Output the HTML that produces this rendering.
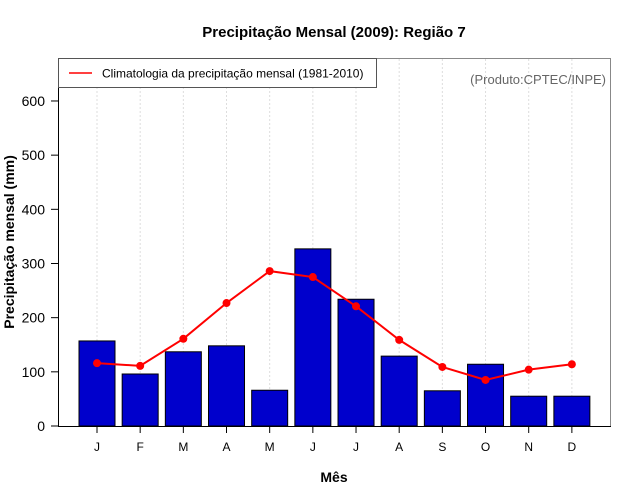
<!DOCTYPE html>
<html><head><meta charset="utf-8"><style>
body{margin:0;background:#fff;}
svg{display:block;font-family:"Liberation Sans",sans-serif;}
</style></head><body>
<svg id="c" width="640" height="500">
<text x="334" y="37" text-anchor="middle" font-size="15" font-weight="bold">Precipitação Mensal (2009): Região 7</text>
<g id="grid"></g><g id="bars"></g><g id="line"></g><g id="axes"></g>
<rect x="58.5" y="58.5" width="552" height="368" fill="none" stroke="#888"/>
<line x1="58.5" y1="58" x2="58.5" y2="427" stroke="#000"/>
<line x1="58" y1="426.5" x2="611" y2="426.5" stroke="#000"/>
<g>
<rect x="58.5" y="58.5" width="318" height="29" fill="#fff" stroke="#555"/>
<line x1="69" y1="73" x2="92" y2="73" stroke="red" stroke-width="1.5"/>
<text x="102" y="77.5" font-size="12">Climatologia da precipitação mensal (1981-2010)</text>
</g>
<text x="606" y="84" text-anchor="end" font-size="13" fill="#666">(Produto:CPTEC/INPE)</text>
<text x="334" y="482" text-anchor="middle" font-size="14" font-weight="bold">Mês</text>
<text transform="translate(14,242) rotate(-90)" text-anchor="middle" font-size="14" font-weight="bold">Precipitação mensal (mm)</text>
</svg>
<script>
const months=["J","F","M","A","M","J","J","A","S","O","N","D"];
const precip2009=[157,96,137,148,66,327,234,129,65,114,55,55];
const climatology=[116,111,161,227,286,275,221,159,109,85,104,114];
const yTicks=[0,100,200,300,400,500,600];
const NS="http://www.w3.org/2000/svg";
const y0=426,pxPerUnit=0.5417;
function yS(v){return y0-v*pxPerUnit;}
function xS(i){return 97+i*43.17;}
function mk(t,a,p){const e=document.createElementNS(NS,t);for(const k in a)e.setAttribute(k,a[k]);p.appendChild(e);return e;}
const grid=document.getElementById('grid'),bars=document.getElementById('bars'),line=document.getElementById('line'),axes=document.getElementById('axes');
months.forEach((m,i)=>{
 const x=xS(i);
 const g=mk('line',{x1:x,y1:59,x2:x,y2:426,stroke:'#ddd','stroke-dasharray':'2,2'},grid);
 
 
 const b=mk('rect',{x:x-18,y:yS(precip2009[i]),width:36,height:precip2009[i]*pxPerUnit,fill:'#0000cc',stroke:'#000','stroke-width':1},bars);
 
 
 const t=mk('line',{x1:x,y1:426,x2:x,y2:433,stroke:'#000'},axes);
 
 
 const l=mk('text',{x:x,y:451,'text-anchor':'middle','font-size':12},axes);
 l.textContent=m;
 
 
});
const pl=mk('polyline',{points:climatology.map((v,i)=>xS(i)+','+yS(v)).join(' '),fill:'none',stroke:'red','stroke-width':2},line);


climatology.forEach((v,i)=>{
 const c=mk('circle',{cx:xS(i),cy:yS(v),r:4,fill:'red'},line);
 
 
});
yTicks.forEach(v=>{
 const t=mk('line',{x1:51,y1:yS(v),x2:58,y2:yS(v),stroke:'#000'},axes);
 
 
 const l=mk('text',{x:45,y:yS(v)+5,'text-anchor':'end','font-size':14},axes);
 l.textContent=v;
 
 
});
</script>
</body></html>
